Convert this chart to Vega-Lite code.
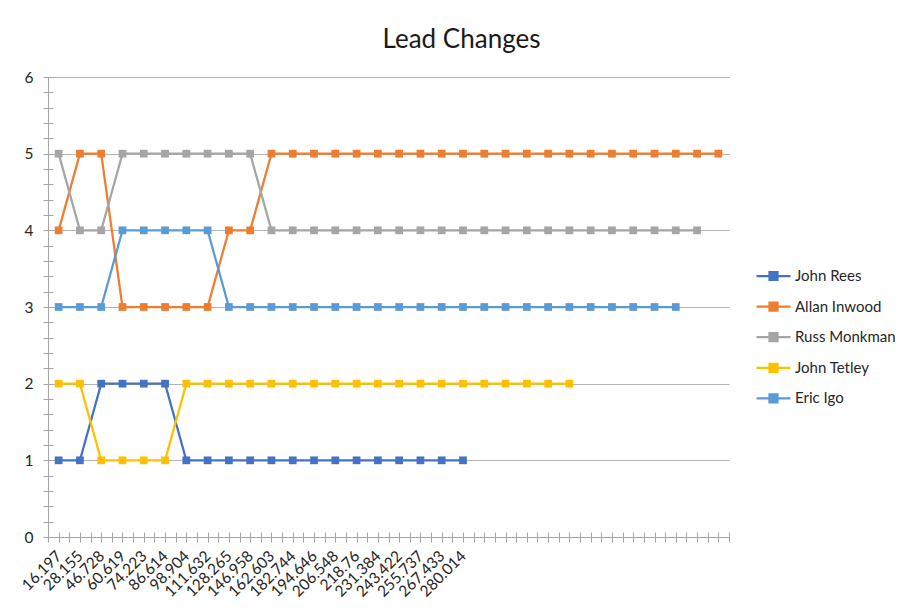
{
  "$schema": "https://vega.github.io/schema/vega-lite/v6.json",
  "width": 681,
  "height": 460,
  "autosize": {"type": "none"},
  "padding": {"left": 48, "top": 77, "right": 177, "bottom": 71},
  "background": "white",
  "title": {"text": "Lead Changes", "font": "Lato", "fontSize": 26, "fontWeight": "normal", "color": "#1a1a1a", "anchor": "middle", "frame": "group", "dx": 73, "offset": 17},
  "config": {"view": {"stroke": null}},
  "data": {"values": [
    {"rider": "John Rees", "lap": 1, "place": 1}, {"rider": "John Rees", "lap": 2, "place": 1}, {"rider": "John Rees", "lap": 3, "place": 2}, {"rider": "John Rees", "lap": 4, "place": 2}, {"rider": "John Rees", "lap": 5, "place": 2}, {"rider": "John Rees", "lap": 6, "place": 2}, {"rider": "John Rees", "lap": 7, "place": 1}, {"rider": "John Rees", "lap": 8, "place": 1}, {"rider": "John Rees", "lap": 9, "place": 1}, {"rider": "John Rees", "lap": 10, "place": 1},
    {"rider": "John Rees", "lap": 11, "place": 1}, {"rider": "John Rees", "lap": 12, "place": 1}, {"rider": "John Rees", "lap": 13, "place": 1}, {"rider": "John Rees", "lap": 14, "place": 1}, {"rider": "John Rees", "lap": 15, "place": 1}, {"rider": "John Rees", "lap": 16, "place": 1}, {"rider": "John Rees", "lap": 17, "place": 1}, {"rider": "John Rees", "lap": 18, "place": 1}, {"rider": "John Rees", "lap": 19, "place": 1}, {"rider": "John Rees", "lap": 20, "place": 1},
    {"rider": "Allan Inwood", "lap": 1, "place": 4}, {"rider": "Allan Inwood", "lap": 2, "place": 5}, {"rider": "Allan Inwood", "lap": 3, "place": 5}, {"rider": "Allan Inwood", "lap": 4, "place": 3}, {"rider": "Allan Inwood", "lap": 5, "place": 3}, {"rider": "Allan Inwood", "lap": 6, "place": 3}, {"rider": "Allan Inwood", "lap": 7, "place": 3}, {"rider": "Allan Inwood", "lap": 8, "place": 3}, {"rider": "Allan Inwood", "lap": 9, "place": 4}, {"rider": "Allan Inwood", "lap": 10, "place": 4},
    {"rider": "Allan Inwood", "lap": 11, "place": 5}, {"rider": "Allan Inwood", "lap": 12, "place": 5}, {"rider": "Allan Inwood", "lap": 13, "place": 5}, {"rider": "Allan Inwood", "lap": 14, "place": 5}, {"rider": "Allan Inwood", "lap": 15, "place": 5}, {"rider": "Allan Inwood", "lap": 16, "place": 5}, {"rider": "Allan Inwood", "lap": 17, "place": 5}, {"rider": "Allan Inwood", "lap": 18, "place": 5}, {"rider": "Allan Inwood", "lap": 19, "place": 5}, {"rider": "Allan Inwood", "lap": 20, "place": 5},
    {"rider": "Allan Inwood", "lap": 21, "place": 5}, {"rider": "Allan Inwood", "lap": 22, "place": 5}, {"rider": "Allan Inwood", "lap": 23, "place": 5}, {"rider": "Allan Inwood", "lap": 24, "place": 5}, {"rider": "Allan Inwood", "lap": 25, "place": 5}, {"rider": "Allan Inwood", "lap": 26, "place": 5}, {"rider": "Allan Inwood", "lap": 27, "place": 5}, {"rider": "Allan Inwood", "lap": 28, "place": 5}, {"rider": "Allan Inwood", "lap": 29, "place": 5}, {"rider": "Allan Inwood", "lap": 30, "place": 5},
    {"rider": "Allan Inwood", "lap": 31, "place": 5}, {"rider": "Allan Inwood", "lap": 32, "place": 5},
    {"rider": "Russ Monkman", "lap": 1, "place": 5}, {"rider": "Russ Monkman", "lap": 2, "place": 4}, {"rider": "Russ Monkman", "lap": 3, "place": 4}, {"rider": "Russ Monkman", "lap": 4, "place": 5}, {"rider": "Russ Monkman", "lap": 5, "place": 5}, {"rider": "Russ Monkman", "lap": 6, "place": 5}, {"rider": "Russ Monkman", "lap": 7, "place": 5}, {"rider": "Russ Monkman", "lap": 8, "place": 5}, {"rider": "Russ Monkman", "lap": 9, "place": 5}, {"rider": "Russ Monkman", "lap": 10, "place": 5},
    {"rider": "Russ Monkman", "lap": 11, "place": 4}, {"rider": "Russ Monkman", "lap": 12, "place": 4}, {"rider": "Russ Monkman", "lap": 13, "place": 4}, {"rider": "Russ Monkman", "lap": 14, "place": 4}, {"rider": "Russ Monkman", "lap": 15, "place": 4}, {"rider": "Russ Monkman", "lap": 16, "place": 4}, {"rider": "Russ Monkman", "lap": 17, "place": 4}, {"rider": "Russ Monkman", "lap": 18, "place": 4}, {"rider": "Russ Monkman", "lap": 19, "place": 4}, {"rider": "Russ Monkman", "lap": 20, "place": 4},
    {"rider": "Russ Monkman", "lap": 21, "place": 4}, {"rider": "Russ Monkman", "lap": 22, "place": 4}, {"rider": "Russ Monkman", "lap": 23, "place": 4}, {"rider": "Russ Monkman", "lap": 24, "place": 4}, {"rider": "Russ Monkman", "lap": 25, "place": 4}, {"rider": "Russ Monkman", "lap": 26, "place": 4}, {"rider": "Russ Monkman", "lap": 27, "place": 4}, {"rider": "Russ Monkman", "lap": 28, "place": 4}, {"rider": "Russ Monkman", "lap": 29, "place": 4}, {"rider": "Russ Monkman", "lap": 30, "place": 4},
    {"rider": "Russ Monkman", "lap": 31, "place": 4},
    {"rider": "John Tetley", "lap": 1, "place": 2}, {"rider": "John Tetley", "lap": 2, "place": 2}, {"rider": "John Tetley", "lap": 3, "place": 1}, {"rider": "John Tetley", "lap": 4, "place": 1}, {"rider": "John Tetley", "lap": 5, "place": 1}, {"rider": "John Tetley", "lap": 6, "place": 1}, {"rider": "John Tetley", "lap": 7, "place": 2}, {"rider": "John Tetley", "lap": 8, "place": 2}, {"rider": "John Tetley", "lap": 9, "place": 2}, {"rider": "John Tetley", "lap": 10, "place": 2},
    {"rider": "John Tetley", "lap": 11, "place": 2}, {"rider": "John Tetley", "lap": 12, "place": 2}, {"rider": "John Tetley", "lap": 13, "place": 2}, {"rider": "John Tetley", "lap": 14, "place": 2}, {"rider": "John Tetley", "lap": 15, "place": 2}, {"rider": "John Tetley", "lap": 16, "place": 2}, {"rider": "John Tetley", "lap": 17, "place": 2}, {"rider": "John Tetley", "lap": 18, "place": 2}, {"rider": "John Tetley", "lap": 19, "place": 2}, {"rider": "John Tetley", "lap": 20, "place": 2},
    {"rider": "John Tetley", "lap": 21, "place": 2}, {"rider": "John Tetley", "lap": 22, "place": 2}, {"rider": "John Tetley", "lap": 23, "place": 2}, {"rider": "John Tetley", "lap": 24, "place": 2}, {"rider": "John Tetley", "lap": 25, "place": 2},
    {"rider": "Eric Igo", "lap": 1, "place": 3}, {"rider": "Eric Igo", "lap": 2, "place": 3}, {"rider": "Eric Igo", "lap": 3, "place": 3}, {"rider": "Eric Igo", "lap": 4, "place": 4}, {"rider": "Eric Igo", "lap": 5, "place": 4}, {"rider": "Eric Igo", "lap": 6, "place": 4}, {"rider": "Eric Igo", "lap": 7, "place": 4}, {"rider": "Eric Igo", "lap": 8, "place": 4}, {"rider": "Eric Igo", "lap": 9, "place": 3}, {"rider": "Eric Igo", "lap": 10, "place": 3},
    {"rider": "Eric Igo", "lap": 11, "place": 3}, {"rider": "Eric Igo", "lap": 12, "place": 3}, {"rider": "Eric Igo", "lap": 13, "place": 3}, {"rider": "Eric Igo", "lap": 14, "place": 3}, {"rider": "Eric Igo", "lap": 15, "place": 3}, {"rider": "Eric Igo", "lap": 16, "place": 3}, {"rider": "Eric Igo", "lap": 17, "place": 3}, {"rider": "Eric Igo", "lap": 18, "place": 3}, {"rider": "Eric Igo", "lap": 19, "place": 3}, {"rider": "Eric Igo", "lap": 20, "place": 3},
    {"rider": "Eric Igo", "lap": 21, "place": 3}, {"rider": "Eric Igo", "lap": 22, "place": 3}, {"rider": "Eric Igo", "lap": 23, "place": 3}, {"rider": "Eric Igo", "lap": 24, "place": 3}, {"rider": "Eric Igo", "lap": 25, "place": 3}, {"rider": "Eric Igo", "lap": 26, "place": 3}, {"rider": "Eric Igo", "lap": 27, "place": 3}, {"rider": "Eric Igo", "lap": 28, "place": 3}, {"rider": "Eric Igo", "lap": 29, "place": 3}, {"rider": "Eric Igo", "lap": 30, "place": 3}
  ]},
  "encoding": {
    "color": {
      "field": "rider", "type": "nominal", "title": null,
      "scale": {"domain": ["John Rees", "Allan Inwood", "Russ Monkman", "John Tetley", "Eric Igo"], "range": ["#4472C4", "#ED7D31", "#A5A5A5", "#FFC000", "#5B9BD5"]},
      "legend": {
        "orient": "none", "legendX": 715.5, "legendY": 189, "padding": 0,
        "symbolType": "M-2,0L2,0M-0.47,-0.47L0.47,-0.47L0.47,0.47L-0.47,0.47Z",
        "symbolSize": 289, "symbolStrokeWidth": 2.25, "symbolOpacity": 1,
        "labelFont": "Lato", "labelFontSize": 15, "labelColor": "#262626", "labelOffset": 11.5, "rowPadding": 11.6,
        "encode": {"symbols": {"update": {"fill": {"scale": "color", "field": "value"}, "stroke": {"scale": "color", "field": "value"}}}}
      }
    }
  },
  "layer": [
    {
      "mark": {"type": "line", "strokeWidth": 2.25},
      "encoding": {
        "x": {"field": "lap", "type": "quantitative", "title": null,
          "scale": {"domain": [0.5, 32.5], "nice": false, "zero": false},
          "axis": {"values": [0.5,1,1.5,2,2.5,3,3.5,4,4.5,5,5.5,6,6.5,7,7.5,8,8.5,9,9.5,10,10.5,11,11.5,12,12.5,13,13.5,14,14.5,15,15.5,16,16.5,17,17.5,18,18.5,19,19.5,20,20.5,21,21.5,22,22.5,23,23.5,24,24.5,25,25.5,26,26.5,27,27.5,28,28.5,29,29.5,30,30.5,31,31.5,32,32.5],
            "labelExpr": "datum.value % 1 === 0 && datum.value <= 20 ? ['16.197','28.155','46.728','60.619','74.223','86.614','98.904','111.632','128.265','146.958','162.603','182.744','194.646','206.548','218.76','231.384','243.422','255.737','267.433','280.014'][datum.value - 1] : ''",
            "labelAngle": -45, "labelAlign": "right", "labelBaseline": "middle", "labelPadding": 11, "labelOverlap": false, "labelFlush": false,
            "labelFont": "Lato", "labelFontSize": 15.5, "labelColor": "#262626",
            "grid": false, "domainColor": "#A6A6A6", "domainWidth": 1, "tickColor": "#A6A6A6", "tickSize": 5, "tickWidth": 1}
        },
        "y": {"field": "place", "type": "quantitative", "title": null,
          "scale": {"domain": [0, 6], "nice": false},
          "axis": {"values": [0,0.2,0.4,0.6,0.8,1,1.2,1.4,1.6,1.8,2,2.2,2.4,2.6,2.8,3,3.2,3.4,3.6,3.8,4,4.2,4.4,4.6,4.8,5,5.2,5.4,5.6,5.8,6],
            "labelExpr": "datum.value % 1 === 0 ? format(datum.value, 'd') : ''",
            "labelPadding": 10, "labelOverlap": false, "labelFlush": false,
            "labelFont": "Lato", "labelFontSize": 15.5, "labelColor": "#262626",
            "grid": true, "gridColor": "#B4B4B4", "gridWidth": 1,
            "gridOpacity": {"condition": {"test": "datum.value % 1 === 0", "value": 1}, "value": 0},
            "domainColor": "#A6A6A6", "domainWidth": 1, "tickColor": "#A6A6A6", "tickSize": 5, "tickWidth": 1}
        }
      }
    },
    {
      "mark": {"type": "point", "shape": "square", "filled": true, "size": 60, "opacity": 1},
      "encoding": {
        "x": {"field": "lap", "type": "quantitative", "title": null,
          "axis": {"orient": "bottom", "offset": -5, "values": [0.5,1,1.5,2,2.5,3,3.5,4,4.5,5,5.5,6,6.5,7,7.5,8,8.5,9,9.5,10,10.5,11,11.5,12,12.5,13,13.5,14,14.5,15,15.5,16,16.5,17,17.5,18,18.5,19,19.5,20,20.5,21,21.5,22,22.5,23,23.5,24,24.5,25,25.5,26,26.5,27,27.5,28,28.5,29,29.5,30,30.5,31,31.5,32,32.5],
            "labels": false, "domain": false, "grid": false, "tickColor": "#A6A6A6", "tickSize": 5, "tickWidth": 1}
        },
        "y": {"field": "place", "type": "quantitative", "title": null,
          "axis": {"orient": "left", "offset": -5, "values": [0,0.2,0.4,0.6,0.8,1,1.2,1.4,1.6,1.8,2,2.2,2.4,2.6,2.8,3,3.2,3.4,3.6,3.8,4,4.2,4.4,4.6,4.8,5,5.2,5.4,5.6,5.8,6],
            "labels": false, "domain": false, "grid": false, "tickColor": "#A6A6A6", "tickSize": 5, "tickWidth": 1}
        }
      }
    }
  ],
  "resolve": {"axis": {"x": "independent", "y": "independent"}}
}
